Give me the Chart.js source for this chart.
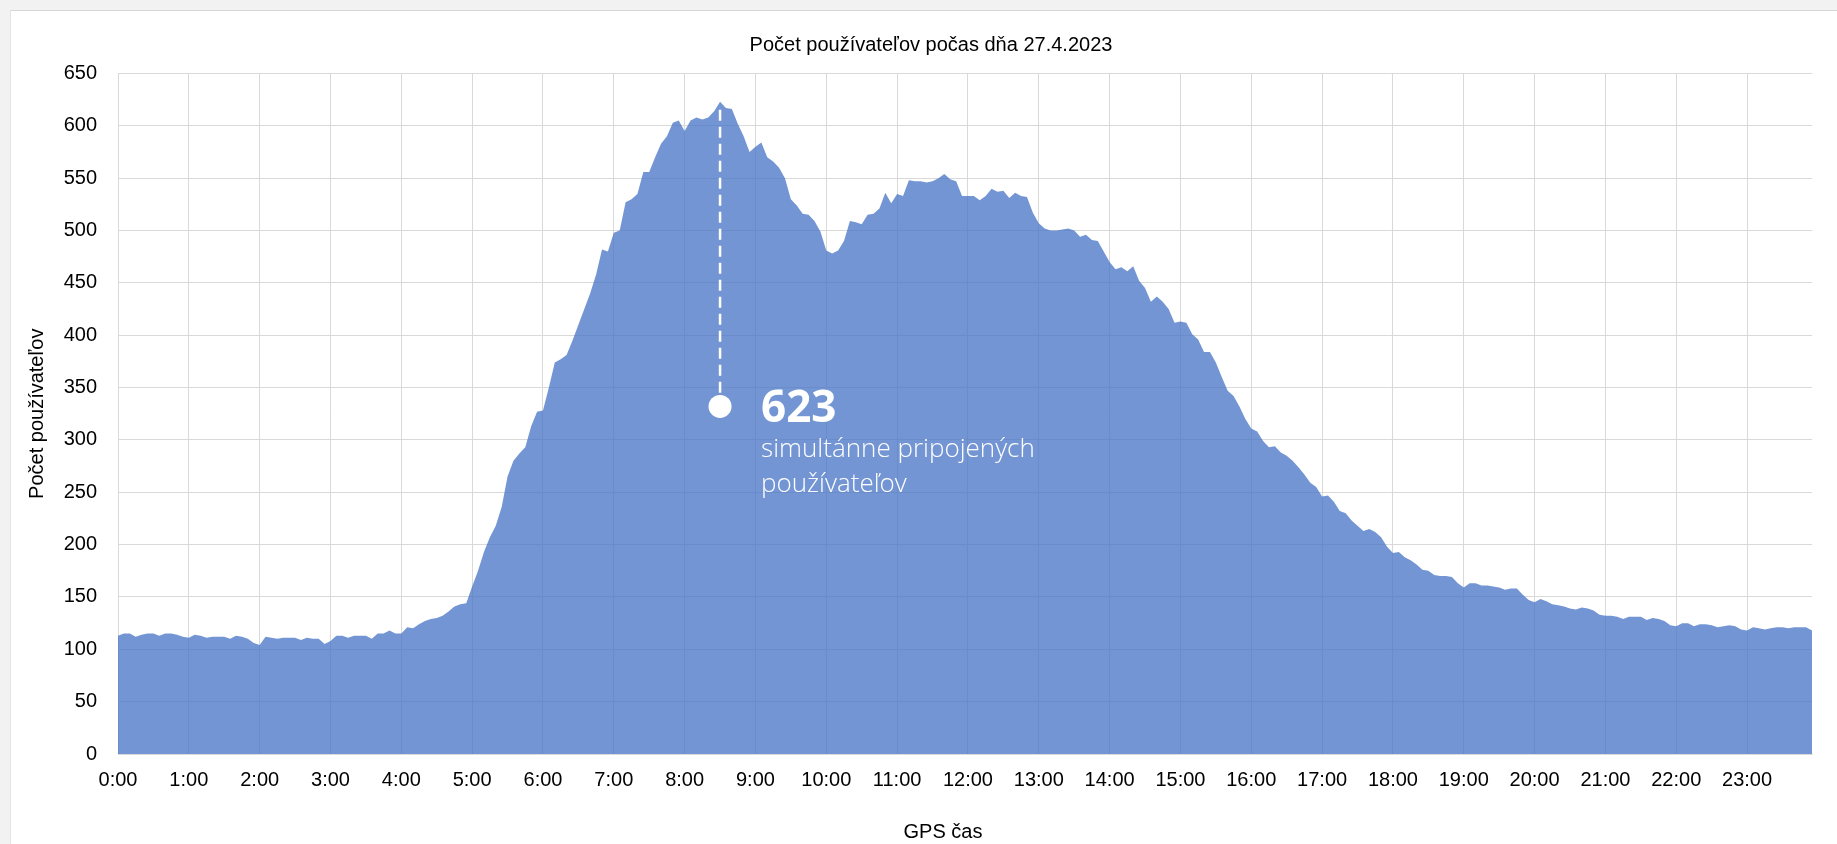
<!DOCTYPE html>
<html>
<head>
<meta charset="utf-8">
<title>Počet používateľov počas dňa 27.4.2023</title>
<script src="https://cdn.jsdelivr.net/npm/chart.js@4.4.1/dist/chart.umd.min.js"></script>
<style>
  html, body { margin: 0; padding: 0; width: 1837px; height: 844px; overflow: hidden; background: #f2f2f2; }
  #panel { position: absolute; left: 10px; top: 10px; width: 1827px; height: 834px; background: #fff;
           border-top: 1px solid #d6d6d6; border-left: 1px solid #e4e4e4; box-sizing: border-box; }
  #wrap { position: absolute; left: 0; top: 0; width: 1837px; height: 844px; }
</style>
</head>
<body>
<div id="panel"></div>
<div id="wrap"><canvas id="chart" width="1837" height="844"></canvas></div>
<script>
// Chart texts
const TITLE = 'Počet používateľov počas dňa 27.4.2023';
const X_TITLE = 'GPS čas';
const Y_TITLE = 'Počet používateľov';
const NOTE_LINES = ['simultánne pripojených', 'používateľov'];

// Hour labels shown on the time axis (one every 12 five‑minute samples)
const HOUR_LABELS = ['0:00','1:00','2:00','3:00','4:00','5:00','6:00','7:00','8:00','9:00','10:00','11:00',
                     '12:00','13:00','14:00','15:00','16:00','17:00','18:00','19:00','20:00','21:00','22:00','23:00'];
const SAMPLES_PER_HOUR = 12;

// Y axis range
const Y_MIN = 0;
const Y_MAX = 650;
const Y_STEP = 50;

// Connected users, one sample every 5 minutes from 0:00 to 23:55
const USERS = [
  113,115,115,112,114,115,115,113,115,115,114,112,
  111,114,113,111,112,112,112,110,113,112,110,106,
  104,112,111,110,111,111,111,109,111,110,110,105,
  108,113,113,111,113,113,113,110,115,115,118,115,
  115,121,120,124,127,129,130,132,136,141,143,144,
  160,175,193,207,218,236,265,280,287,293,313,327,
  328,350,374,377,381,395,410,425,440,458,482,480,
  498,500,527,530,535,556,556,570,583,590,603,605,
  595,605,608,606,608,614,623,617,616,602,590,575,
  580,584,570,566,560,550,530,524,516,515,509,499,
  481,478,481,490,509,508,506,515,516,521,536,526,
  535,533,548,547,547,546,547,550,554,549,547,533,
  533,533,529,533,540,537,538,531,536,533,532,517,
  507,502,500,500,501,502,500,494,496,491,490,480,
  470,463,465,461,466,452,445,432,437,432,425,412,
  413,412,401,396,384,384,374,360,347,342,332,320,
  311,308,299,293,294,288,285,280,274,267,259,255,
  246,247,241,232,230,223,218,213,215,212,207,198,
  192,193,188,185,181,176,175,171,170,170,169,163,
  159,163,163,161,161,160,159,157,158,158,152,147,
  145,148,146,143,142,141,139,138,140,139,137,133,
  132,132,131,129,131,131,131,128,130,129,127,123,
  122,125,125,122,124,124,123,121,122,123,122,119,
  118,121,120,119,120,121,121,120,121,121,121,118
];

// Level (in users) where the callout dot sits below the daily peak
const MARKER_LEVEL = 332;

// Five‑minute category labels, e.g. "8:35"
const CATEGORIES = USERS.map((_, i) => {
  const h = Math.floor(i / SAMPLES_PER_HOUR);
  const m = (i % SAMPLES_PER_HOUR) * 5;
  return h + ':' + String(m).padStart(2, '0');
});

const PEAK_INDEX = USERS.indexOf(Math.max(...USERS));

const FONT = '"Liberation Sans", Arial, sans-serif';
const NOTE_FONT = '"Open Sans", "Noto Sans", sans-serif';
const GRID = '#d9d9d9';

// Chart title and time-axis title, placed like the spreadsheet layout
const headings = {
  id: 'headings',
  afterDraw(chart) {
    const { ctx } = chart;
    ctx.save();
    ctx.fillStyle = '#000';
    ctx.font = '20px ' + FONT;
    ctx.textAlign = 'center';
    ctx.textBaseline = 'middle';
    ctx.fillText(TITLE, 931, 45);
    ctx.fillText(X_TITLE, 943, 832);
    ctx.restore();
  }
};

// Dashed drop line, dot and the peak callout text
const peakCallout = {
  id: 'peakCallout',
  afterDatasetsDraw(chart) {
    const { ctx, scales: { x, y } } = chart;
    const px = x.getPixelForValue(PEAK_INDEX);
    const topY = y.getPixelForValue(USERS[PEAK_INDEX]);
    const dotY = y.getPixelForValue(MARKER_LEVEL);
    ctx.save();
    ctx.strokeStyle = '#ffffff';
    ctx.lineWidth = 2.5;
    ctx.setLineDash([11, 6]);
    ctx.beginPath();
    ctx.moveTo(px, topY + 8);
    ctx.lineTo(px, dotY);
    ctx.stroke();
    ctx.setLineDash([]);
    ctx.fillStyle = '#ffffff';
    ctx.beginPath();
    ctx.arc(px, dotY, 11.5, 0, Math.PI * 2);
    ctx.fill();
    ctx.textAlign = 'left';
    ctx.textBaseline = 'alphabetic';
    ctx.font = '700 44px ' + NOTE_FONT;
    ctx.fillText(String(USERS[PEAK_INDEX]), px + 41, dotY + 16);
    ctx.font = '300 26px ' + NOTE_FONT;
    ctx.fillText(NOTE_LINES[0], px + 41, dotY + 51);
    ctx.fillText(NOTE_LINES[1], px + 41, dotY + 86);
    ctx.restore();
  }
};

new Chart(document.getElementById('chart').getContext('2d'), {
  type: 'line',
  data: {
    labels: CATEGORIES,
    datasets: [{
      data: USERS,
      fill: 'origin',
      backgroundColor: 'rgba(68,114,196,0.75)',
      borderWidth: 0,
      pointRadius: 0,
      pointHoverRadius: 0,
      tension: 0
    }]
  },
  options: {
    responsive: false,
    animation: false,
    events: [],
    layout: { padding: { left: 0, right: 25, top: 73.5, bottom: 0 } },
    plugins: {
      legend: { display: false },
      tooltip: { enabled: false },
      title: { display: false }
    },
    scales: {
      x: {
        type: 'category',
        offset: false,
        grid: { color: GRID, lineWidth: 1, drawTicks: false, tickLength: 0 },
        border: { display: true, color: GRID, width: 1 },
        ticks: {
          autoSkip: false,
          maxRotation: 0,
          minRotation: 0,
          padding: 14,
          color: '#000',
          font: { family: FONT, size: 20 },
          callback: (v, i) => (i % SAMPLES_PER_HOUR === 0 ? HOUR_LABELS[i / SAMPLES_PER_HOUR] : null)
        },
        title: { display: false },
        afterFit: (s) => { s.height = 90; }
      },
      y: {
        min: Y_MIN,
        max: Y_MAX,
        grid: { color: GRID, lineWidth: 1, drawTicks: false, tickLength: 0 },
        border: { display: false },
        ticks: {
          stepSize: Y_STEP,
          padding: 21,
          color: '#000',
          font: { family: FONT, size: 20 }
        },
        title: {
          display: true,
          text: Y_TITLE,
          color: '#000',
          font: { family: FONT, size: 20, lineHeight: 1.2 },
          padding: { top: 25, bottom: 0 }
        },
        afterFit: (s) => { s.width = 118; }
      }
    }
  },
  plugins: [peakCallout, headings]
});
</script>
</body>
</html>
